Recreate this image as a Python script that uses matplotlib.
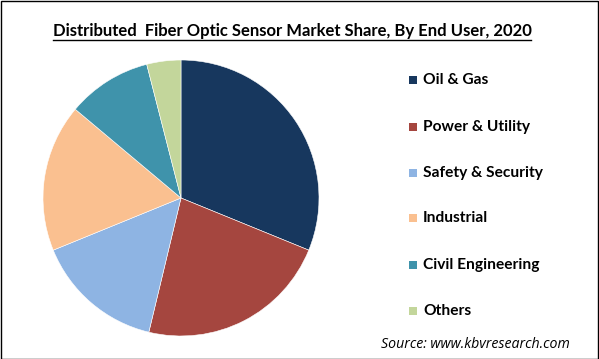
import matplotlib.pyplot as plt
from matplotlib.patches import Rectangle
from matplotlib.lines import Line2D

labels = ['Oil & Gas', 'Power & Utility', 'Safety & Security', 'Industrial',
          'Civil Engineering', 'Others']
shares = [31.2, 22.6, 15.1, 17.3, 9.9, 4.0]
colors = ['#17375E', '#A5463F', '#8EB4E3', '#FAC090', '#3F93AB', '#C3D69B']

title = 'Distributed  Fiber Optic Sensor Market Share, By End User, 2020'
source = 'Source: www.kbvresearch.com'

W, H = 599, 359
fig = plt.figure(figsize=(W / 100, H / 100), dpi=100)

# pie: center ~ (181, 198) px, radius ~ 138 px
cx, cy, r = 181, 198, 138
ax = fig.add_axes([(cx - r) / W, (H - cy - r) / H, 2 * r / W, 2 * r / H])
ax.pie(shares, colors=colors, startangle=90, counterclock=False,
       wedgeprops=dict(edgecolor='white', linewidth=0.4))
ax.set_xlim(-1, 1)
ax.set_ylim(-1, 1)
ax.set_aspect('equal')

# title with underline
t = fig.text(292 / W, 1 - 31 / H, title, ha='center', va='center',
             fontsize=12, fontweight='bold', family='Lato')
fig.canvas.draw()
bb = t.get_window_extent()
fig.add_artist(Line2D([bb.x0 / W, bb.x1 / W], [(bb.y0 - 1) / H, (bb.y0 - 1) / H],
                      color='black', linewidth=1))

# legend
y_rows = [80, 127, 173, 218, 265, 311]
for lab, col, yr in zip(labels, colors, y_rows):
    fig.add_artist(Rectangle((409 / W, (H - yr - 4) / H), 8 / W, 8 / H,
                             facecolor=col, edgecolor='none',
                             transform=fig.transFigure))
    fig.text(423 / W, 1 - yr / H, lab, ha='left', va='center',
             fontsize=11.2, fontweight='bold', family='Lato')

fig.text(570 / W, 1 - 344 / H, source, ha='right', va='center',
         fontsize=10.2, style='italic', family='Open Sans')

# outer border
fig.add_artist(Rectangle((0.5 / W, 0.5 / H), (W - 1.5) / W, (H - 1.5) / H,
                         facecolor='none', edgecolor='black', linewidth=1,
                         transform=fig.transFigure))

fig.savefig('out.png', dpi=100)
